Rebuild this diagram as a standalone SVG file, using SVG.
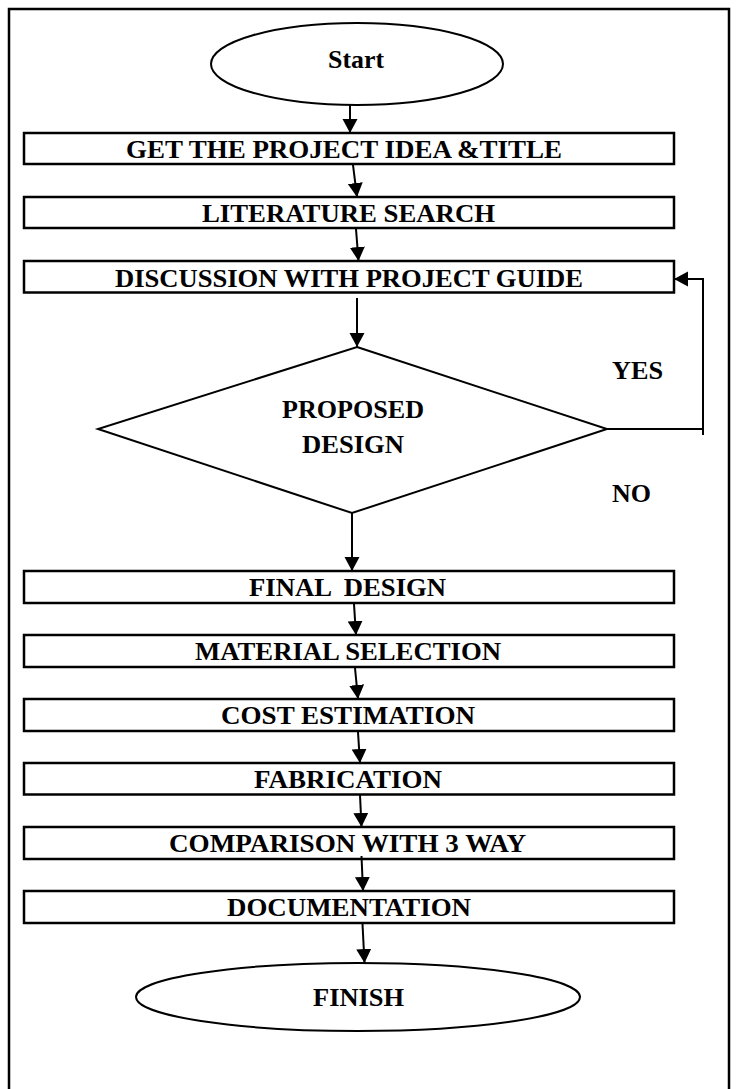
<svg xmlns="http://www.w3.org/2000/svg" width="736" height="1089" viewBox="0 0 736 1089">
<style>
  .t { font-family: "Liberation Serif", "Times New Roman", serif; font-weight: bold; font-size: 26px; fill: #000; text-anchor: middle; white-space: pre; }
  .box { fill: #fff; stroke: #000; stroke-width: 2.5; }
  .shape { fill: #fff; stroke: #000; stroke-width: 2; }
  .conn { fill: none; stroke: #000; stroke-width: 2; }
</style>
<defs>
  <marker id="ah" markerUnits="userSpaceOnUse" markerWidth="16" markerHeight="16" refX="14" refY="7.5" orient="auto">
    <path d="M0,0 L14,7.5 L0,15 z" fill="#000"/>
  </marker>
</defs>
<rect x="9" y="9" width="720" height="1100" fill="#fff" stroke="#000" stroke-width="2.5"/>

<g id="start">
  <ellipse cx="357" cy="64" rx="146" ry="41" class="shape"/>
  <text class="t" x="356" y="68" textLength="56" lengthAdjust="spacingAndGlyphs">Start</text>
</g>
<g id="n1">
  <rect x="24" y="133" width="650" height="31" class="box"/>
  <text class="t" x="344" y="158" textLength="436" lengthAdjust="spacingAndGlyphs">GET THE PROJECT IDEA &amp;TITLE</text>
</g>
<g id="n2">
  <rect x="24" y="197" width="650" height="31" class="box"/>
  <text class="t" x="348.5" y="221.5" textLength="293" lengthAdjust="spacingAndGlyphs">LITERATURE SEARCH</text>
</g>
<g id="n3">
  <rect x="24" y="261" width="650" height="31.5" class="box"/>
  <text class="t" x="349" y="286.5" textLength="468" lengthAdjust="spacingAndGlyphs">DISCUSSION WITH PROJECT GUIDE</text>
</g>
<g id="decision">
  <polygon points="357,347 607,429 352,513 98,429" class="shape"/>
  <text class="t" x="353" y="418" textLength="142" lengthAdjust="spacingAndGlyphs">PROPOSED</text>
  <text class="t" x="353" y="453" textLength="102" lengthAdjust="spacingAndGlyphs">DESIGN</text>
</g>
<g id="n4">
  <rect x="24" y="571" width="650" height="32" class="box"/>
  <text class="t" x="347.5" y="596" textLength="197" lengthAdjust="spacingAndGlyphs">FINAL  DESIGN</text>
</g>
<g id="n5">
  <rect x="24" y="635" width="650" height="32" class="box"/>
  <text class="t" x="348" y="660" textLength="306" lengthAdjust="spacingAndGlyphs">MATERIAL SELECTION</text>
</g>
<g id="n6">
  <rect x="24" y="699" width="650" height="32" class="box"/>
  <text class="t" x="348" y="724" textLength="254" lengthAdjust="spacingAndGlyphs">COST ESTIMATION</text>
</g>
<g id="n7">
  <rect x="24" y="763" width="650" height="31.5" class="box"/>
  <text class="t" x="348" y="788" textLength="188" lengthAdjust="spacingAndGlyphs">FABRICATION</text>
</g>
<g id="n8">
  <rect x="24" y="827" width="650" height="32" class="box"/>
  <text class="t" x="347.5" y="852" textLength="357" lengthAdjust="spacingAndGlyphs">COMPARISON WITH 3 WAY</text>
</g>
<g id="n9">
  <rect x="24" y="891" width="650" height="32" class="box"/>
  <text class="t" x="349" y="916" textLength="244" lengthAdjust="spacingAndGlyphs">DOCUMENTATION</text>
</g>
<g id="finish">
  <ellipse cx="358" cy="997" rx="222" ry="34" class="shape"/>
  <text class="t" x="358.5" y="1006" textLength="91" lengthAdjust="spacingAndGlyphs">FINISH</text>
</g>

<g id="labels">
  <text class="t" x="637.5" y="379" textLength="51" lengthAdjust="spacingAndGlyphs">YES</text>
  <text class="t" x="631.5" y="502" textLength="39" lengthAdjust="spacingAndGlyphs">NO</text>
</g>

<g id="connectors">
  <line x1="350" y1="105" x2="350" y2="133" class="conn" marker-end="url(#ah)"/>
  <line x1="353" y1="165" x2="357" y2="197" class="conn" marker-end="url(#ah)"/>
  <line x1="356" y1="229" x2="358.5" y2="261" class="conn" marker-end="url(#ah)"/>
  <line x1="357" y1="298" x2="357" y2="347" class="conn" marker-end="url(#ah)"/>
  <line x1="352" y1="513" x2="352" y2="571" class="conn" marker-end="url(#ah)"/>
  <line x1="354" y1="604" x2="356" y2="635" class="conn" marker-end="url(#ah)"/>
  <line x1="355" y1="668" x2="358" y2="699" class="conn" marker-end="url(#ah)"/>
  <line x1="358" y1="732" x2="360" y2="763" class="conn" marker-end="url(#ah)"/>
  <line x1="360" y1="795" x2="361.5" y2="827" class="conn" marker-end="url(#ah)"/>
  <line x1="361.5" y1="856" x2="363" y2="891" class="conn" marker-end="url(#ah)"/>
  <line x1="362.5" y1="924" x2="364.5" y2="963" class="conn" marker-end="url(#ah)"/>
  <polyline points="607,429 703,429" class="conn"/>
  <polyline points="703,435 703,279 674,279" class="conn" marker-end="url(#ah)"/>
</g>
</svg>
